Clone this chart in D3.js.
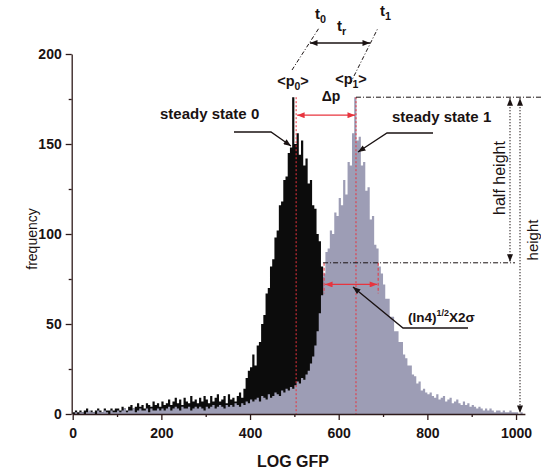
<!DOCTYPE html>
<html>
<head>
<meta charset="UTF-8">
<title>LOG GFP histogram</title>
<script src="https://d3js.org/d3.v7.min.js"></script>
<style>
  body { margin: 0; background: #fff; }
  svg { font-family: "Liberation Sans", Arial, sans-serif; }
</style>
</head>
<body>
<svg width="541" height="473"></svg>
<script>
// channel bins of 5 LOG GFP units
const binWidth = 5;
const state0 = [
  1,2,1,2,1,2,3,1,2,1,2,3,2,1,3,2,2,3,2,3,
  3,2,4,3,2,4,5,3,4,6,4,5,3,6,5,4,7,5,6,4,
  7,5,6,8,5,7,9,6,8,5,9,7,6,10,7,8,6,9,7,10,
  8,6,10,7,9,11,7,8,10,6,11,8,9,7,10,12,9,14,20,24,
  26,33,27,38,40,50,55,67,70,82,86,98,102,116,118,130,132,145,148,176,
  150,156,144,152,138,142,128,130,116,114,100,96,82,76,64,54,46,38,32,27,
  22,19,16,14,12,10,9,8,7,6,5,5,4,4,3,3,3,2,2,2,
  2,1,2,1,1,1,1,0,1,1,0,1,0,0,1,0,0,0,0,0,
  0,0,0,0,0,0,0,0,0,0,0,0,0,0,0,0,0,0,0,0,
  0,0,0,0,0,0,0,0,0,0,0,0,0,0,0,0,0,0,0,0,
  0,0,0,0
];
const state1 = [
  0,1,0,1,1,0,1,2,1,1,0,2,1,1,2,1,0,2,1,1,
  2,1,2,3,1,2,2,3,1,2,3,2,2,3,1,3,2,2,3,2,
  3,2,3,4,2,3,4,3,2,4,3,3,4,2,3,4,3,4,3,2,
  4,3,4,5,3,4,5,4,3,5,4,5,4,6,5,4,6,5,7,6,
  8,7,8,9,7,10,9,8,11,9,10,12,11,10,13,12,14,13,15,14,
  16,18,17,20,19,22,24,28,32,38,46,56,66,78,90,92,102,100,112,110,
  120,116,130,122,140,138,156,176,152,154,138,140,124,126,108,110,94,92,82,78,
  72,64,64,54,54,46,46,40,40,33,31,27,27,22,21,17,18,13,14,12,
  11,12,10,9,11,8,9,10,7,8,9,6,7,8,6,5,7,5,6,4,
  5,4,3,4,3,2,3,2,3,2,1,2,2,1,2,1,1,2,1,1,
  1,0,1,0
];
const xTicks = [0, 200, 400, 600, 800, 1000];
const xMinor = [100, 300, 500, 700, 900];
const yTicks = [0, 50, 100, 150, 200];
const yMinor = [25, 75, 125, 175];

// annotation values
const p0 = 504, p1 = 639;
const peakFreq = 176, halfFreq = 84, dpFreq = 166, fwFreq = 72;
const fwhmLo = 567, fwhmHi = 689;

const svg = d3.select("svg");
const x = d3.scaleLinear().domain([0, 1020]).range([72.7, 524.9]);
const y = d3.scaleLinear().domain([0, 200]).range([414, 54]);

const red = "#e8343e";
const ink = "#1a1212";

// arrow heads
const defs = svg.append("defs");
function marker(id, color) {
  defs.append("marker")
    .attr("id", id)
    .attr("viewBox", "0 0 10 8")
    .attr("refX", 10)
    .attr("refY", 4)
    .attr("markerWidth", 8)
    .attr("markerHeight", 6)
    .attr("markerUnits", "userSpaceOnUse")
    .attr("orient", "auto-start-reverse")
    .append("path")
    .attr("d", "M0,0L10,4L0,8Z")
    .attr("fill", color);
}
marker("arRed", red);
marker("arBlack", ink);

// histograms, grey drawn over black
const toPts = arr => arr.map((f, i) => ({ c: i * binWidth, f }))
  .concat([{ c: arr.length * binWidth, f: 0 }]);
const area = d3.area()
  .curve(d3.curveStepAfter)
  .x(d => x(d.c))
  .y0(y(0))
  .y1(d => y(d.f));

svg.append("path").datum(toPts(state0)).attr("d", area).attr("fill", "#0c0c0c");
svg.append("path").datum(toPts(state1)).attr("d", area).attr("fill", "#9d9db5");

// red dotted mean lines
[p0, p1].forEach(p => {
  svg.append("line")
    .attr("x1", x(p)).attr("x2", x(p))
    .attr("y1", y(peakFreq)).attr("y2", y(0))
    .attr("stroke", red).attr("stroke-width", 1)
    .attr("stroke-dasharray", "2,2");
});

// delta p arrow
svg.append("line")
  .attr("x1", x(p0) + 1).attr("x2", x(p1) - 1)
  .attr("y1", y(dpFreq)).attr("y2", y(dpFreq))
  .attr("stroke", red).attr("stroke-width", 1.3)
  .attr("marker-start", "url(#arRed)").attr("marker-end", "url(#arRed)");

// FWHM bracket
[fwhmLo, fwhmHi].forEach(p => {
  svg.append("line")
    .attr("x1", x(p)).attr("x2", x(p))
    .attr("y1", y(halfFreq)).attr("y2", y(fwFreq - 5))
    .attr("stroke", red).attr("stroke-width", 1)
    .attr("stroke-dasharray", "3,2");
});
svg.append("line")
  .attr("x1", x(fwhmLo) + 1).attr("x2", x(fwhmHi) - 1)
  .attr("y1", y(fwFreq)).attr("y2", y(fwFreq))
  .attr("stroke", red).attr("stroke-width", 1.3)
  .attr("marker-start", "url(#arRed)").attr("marker-end", "url(#arRed)");

// dash-dot reference lines
svg.append("line")
  .attr("x1", x(p1)).attr("x2", 541)
  .attr("y1", y(peakFreq)).attr("y2", y(peakFreq))
  .attr("stroke", ink).attr("stroke-width", 1).attr("stroke-dasharray", "5,2,1,2");
svg.append("line")
  .attr("x1", x(fwhmLo) - 1).attr("x2", 515)
  .attr("y1", y(halfFreq)).attr("y2", y(halfFreq))
  .attr("stroke", ink).attr("stroke-width", 1).attr("stroke-dasharray", "5,2,1,2");

// height / half height arrows
svg.append("line")
  .attr("x1", 510).attr("x2", 510)
  .attr("y1", y(peakFreq) + 1).attr("y2", y(halfFreq) - 1)
  .attr("stroke", ink).attr("stroke-width", 1.3).attr("stroke-dasharray", "1,2")
  .attr("marker-start", "url(#arBlack)").attr("marker-end", "url(#arBlack)");
svg.append("line")
  .attr("x1", 520).attr("x2", 520)
  .attr("y1", y(peakFreq) + 1).attr("y2", y(0) - 1)
  .attr("stroke", ink).attr("stroke-width", 1.3).attr("stroke-dasharray", "1,2")
  .attr("marker-start", "url(#arBlack)").attr("marker-end", "url(#arBlack)");

svg.append("text")
  .attr("transform", "translate(505,178) rotate(-90)")
  .attr("text-anchor", "middle").attr("font-size", 16).attr("fill", ink)
  .text("half height");
svg.append("text")
  .attr("transform", "translate(538,240) rotate(-90)")
  .attr("text-anchor", "middle").attr("font-size", 15).attr("fill", ink)
  .text("height");

// t0 / t1 slanted lines and tr arrow
const slant = [[292, 70, 319, 28], [350, 84, 378, 28]];
slant.forEach(s => {
  svg.append("line")
    .attr("x1", s[0]).attr("y1", s[1]).attr("x2", s[2]).attr("y2", s[3])
    .attr("stroke", ink).attr("stroke-width", 1).attr("stroke-dasharray", "4,2,1,2");
});
svg.append("line")
  .attr("x1", 310).attr("x2", 370).attr("y1", 43).attr("y2", 43)
  .attr("stroke", ink).attr("stroke-width", 1.4)
  .attr("marker-start", "url(#arBlack)").attr("marker-end", "url(#arBlack)");

function subLabel(xp, yp, main, sub, size, anchor, tail) {
  const t = svg.append("text")
    .attr("x", xp).attr("y", yp)
    .attr("text-anchor", anchor || "start")
    .attr("font-size", size).attr("font-weight", "bold").attr("fill", ink);
  t.append("tspan").text(main);
  t.append("tspan").attr("font-size", size * 0.72).attr("dy", 4).text(sub);
  if (tail) t.append("tspan").attr("dy", -4).text(tail);
  return t;
}
subLabel(315, 19, "t", "0", 15);
subLabel(337, 31, "t", "r", 15);
subLabel(380, 16, "t", "1", 15);
subLabel(293, 86, "<p", "0", 14.5, "middle", ">");
subLabel(351, 84, "<p", "1", 14.5, "middle", ">");

svg.append("text")
  .attr("x", 331).attr("y", 101).attr("text-anchor", "middle")
  .attr("font-size", 14).attr("font-weight", "bold").attr("fill", ink)
  .text("\u0394p");

// steady state labels with leaders
svg.append("text")
  .attr("x", 160).attr("y", 119)
  .attr("font-size", 15).attr("font-weight", "bold").attr("fill", ink)
  .text("steady state 0");
svg.append("polyline")
  .attr("points", "234,132 271,132 291,146")
  .attr("fill", "none").attr("stroke", ink).attr("stroke-width", 1.3)
  .attr("marker-end", "url(#arBlack)");

svg.append("text")
  .attr("x", 392).attr("y", 122)
  .attr("font-size", 15).attr("font-weight", "bold").attr("fill", ink)
  .text("steady state 1");
svg.append("polyline")
  .attr("points", "433,133 387,133 358,152")
  .attr("fill", "none").attr("stroke", ink).attr("stroke-width", 1.3)
  .attr("marker-end", "url(#arBlack)");

// (ln4)^1/2 X 2 sigma label
const fw = svg.append("text")
  .attr("x", 408).attr("y", 322)
  .attr("font-size", 13.5).attr("font-weight", "bold").attr("fill", ink);
fw.append("tspan").text("(ln4)");
fw.append("tspan").attr("font-size", 9).attr("dy", -6).text("1/2");
fw.append("tspan").attr("dy", 6).text("X2\u03c3");
svg.append("polyline")
  .attr("points", "468,328 403,328 353,287")
  .attr("fill", "none").attr("stroke", ink).attr("stroke-width", 1.3)
  .attr("marker-end", "url(#arBlack)");

// axes
const xAxis = svg.append("g")
  .attr("transform", `translate(0,${y(0)})`)
  .call(d3.axisBottom(x).tickValues(xTicks).tickFormat(d3.format("d"))
    .tickSize(6).tickPadding(8).tickSizeOuter(0));
const xAxisMinor = svg.append("g")
  .attr("transform", `translate(0,${y(0)})`)
  .call(d3.axisBottom(x).tickValues(xMinor).tickSize(3).tickFormat(""));
xAxisMinor.select(".domain").remove();

const yAxis = svg.append("g")
  .attr("transform", `translate(${x(0) - 1},0)`)
  .call(d3.axisLeft(y).tickValues(yTicks).tickSize(6).tickPadding(4).tickSizeOuter(0));
const yAxisMinor = svg.append("g")
  .attr("transform", `translate(${x(0) - 1},0)`)
  .call(d3.axisLeft(y).tickValues(yMinor).tickSize(3).tickFormat(""));
yAxisMinor.select(".domain").remove();

svg.selectAll(".domain, .tick line").attr("stroke", "#2e1a1a").attr("stroke-width", 1.3);
svg.selectAll(".tick text")
  .attr("font-family", "'Liberation Sans', Arial, sans-serif")
  .attr("font-size", 14).attr("font-weight", "bold").attr("fill", ink);

// axis titles
svg.append("text")
  .attr("transform", "translate(37,239) rotate(-90)")
  .attr("text-anchor", "middle").attr("font-size", 14).attr("fill", ink)
  .text("frequency");
svg.append("text")
  .attr("x", 293).attr("y", 467)
  .attr("text-anchor", "middle").attr("font-size", 16).attr("font-weight", "bold").attr("fill", ink)
  .text("LOG GFP");
</script>
</body>
</html>
